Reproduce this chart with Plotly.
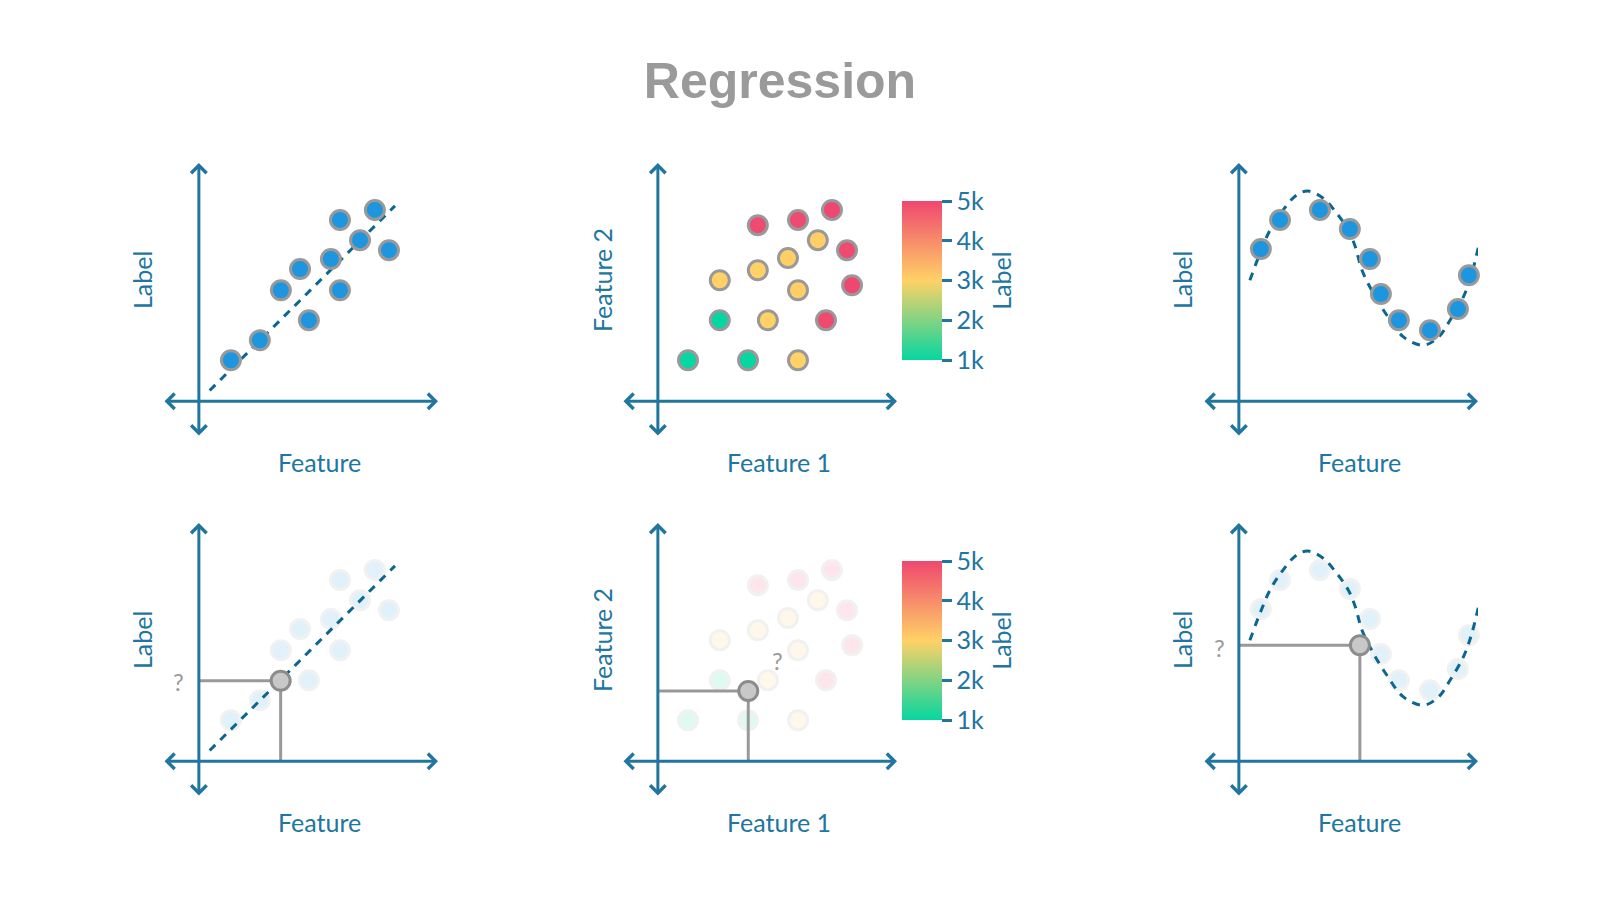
import plotly.graph_objects as go

# colours / fonts
AXIS_BLUE = '#21769f'
FIT_BLUE = '#0b6690'
DOT_BLUE = '#1e96df'
GREY = '#999999'
HAND_FONT = 'Lato'

# --- linear regression panels (1 and 4) ---
lin_feature = [1.34, 2.55, 3.43, 4.23, 4.60, 5.52, 5.90, 5.90, 6.74, 7.36, 7.95]
lin_label = [1.72, 2.56, 4.66, 5.55, 3.40, 5.97, 4.66, 7.61, 6.76, 8.03, 6.34]
lin_fit_x = [0.45, 8.2]
lin_fit_y = [0.45, 8.2]
lin_query = [3.42, 3.38]

# --- two-feature panels (2 and 5) ---
multi_f1 = [4.18, 5.86, 7.28, 6.69, 7.91, 5.44, 4.18, 2.59, 5.86, 8.12, 2.59, 4.60, 7.03, 1.26, 3.77, 5.86]
multi_f2 = [7.39, 7.61, 8.03, 6.76, 6.34, 6.01, 5.50, 5.08, 4.66, 4.87, 3.40, 3.40, 3.40, 1.72, 1.72, 1.72]
multi_label = [4950, 4950, 5000, 3050, 4950, 3050, 3000, 3000, 3050, 5000, 1000, 3000, 4950, 1000, 1000, 3000]
multi_query = [3.78, 2.95]
cbar_ticks = [1000, 2000, 3000, 4000, 5000]
cbar_text = ['1k', '2k', '3k', '4k', '5k']

# --- non-linear panels (3 and 6) ---
curve_feature = [0.92, 1.72, 3.39, 4.64, 5.48, 5.94, 6.69, 7.99, 9.16, 9.62]
curve_label = [6.39, 7.61, 8.03, 7.23, 5.97, 4.50, 3.40, 2.98, 3.87, 5.29]
curve_fit_x = [0.46, 0.88, 1.30, 1.79, 2.42, 2.90, 3.53, 4.09, 4.58, 4.87, 5.15, 5.63,
               6.19, 6.88, 7.72, 8.35, 8.83, 9.39, 9.74, 10.08]
curve_fit_y = [5.08, 6.20, 7.18, 7.95, 8.66, 8.82, 8.52, 7.89, 7.18, 6.48, 5.50, 4.52,
               3.61, 2.70, 2.35, 2.70, 3.40, 4.38, 5.36, 6.76]
curve_query = [5.06, 4.87]

xlabels = ['Feature', 'Feature 1', 'Feature']
ylabels = ['Label', 'Feature 2', 'Label']

# page pixel positions (the html body has an 8px margin, so the figure is shrunk by it)
OFF = 8
W, H = 1600 - 2 * OFF, 900 - 2 * OFF
col_px = [(163, 438), (622, 897), (1203, 1478)]
row_px = [(163, 437), (523, 797)]
origin_px = [199, 659, 1239]


def px_x(p):
    return (p - OFF) / W


def px_y(p):
    return 1 - (p - OFF) / H


fig = go.Figure()
annotations = []


def refs(i):
    return ('x' if i == 1 else 'x%d' % i), ('y' if i == 1 else 'y%d' % i)


def dots(i, x, y, color=DOT_BLUE, opacity=1.0, colorbar=None):
    xr, yr = refs(i)
    marker = dict(size=19, color=color, opacity=opacity, line=dict(color=GREY, width=3))
    if colorbar is not None:
        marker.update(colorscale=[[0, '#06d6a0'], [0.5, '#ffd166'], [1, '#ef476f']],
                      cmin=1000, cmax=5000, showscale=True, colorbar=colorbar)
    fig.add_trace(go.Scatter(x=x, y=y, mode='markers', marker=marker, xaxis=xr, yaxis=yr,
                             cliponaxis=False, hoverinfo='skip', showlegend=False))


def fit(i, x, y, shape='linear'):
    xr, yr = refs(i)
    fig.add_trace(go.Scatter(x=x, y=y, mode='lines', xaxis=xr, yaxis=yr, cliponaxis=False,
                             line=dict(color=FIT_BLUE, width=3, dash='8px,7px', shape=shape),
                             hoverinfo='skip', showlegend=False))


def query(i, q, qmark):
    xr, yr = refs(i)
    fig.add_trace(go.Scatter(x=[0, q[0], q[0]], y=[q[1], q[1], 0], mode='lines',
                             line=dict(color=GREY, width=3), xaxis=xr, yaxis=yr,
                             hoverinfo='skip', showlegend=False))
    fig.add_trace(go.Scatter(x=[q[0]], y=[q[1]], mode='markers', xaxis=xr, yaxis=yr,
                             marker=dict(size=19, color='#c8c8c8', line=dict(color='#8c8c8c', width=3)),
                             hoverinfo='skip', showlegend=False))
    annotations.append(dict(x=qmark[0], y=qmark[1], xref=xr, yref=yr, text='?', showarrow=False,
                            font=dict(family=HAND_FONT, size=24, color=GREY)))


def cbar(row):
    top, bot = row_px[row]
    top, bot = top + 38, bot - 77
    return dict(x=px_x(902), xanchor='left', xpad=0, ypad=0, thickness=40,
                y=px_y((top + bot) / 2), yanchor='middle', lenmode='pixels', len=bot - top,
                outlinewidth=0, tickvals=cbar_ticks, ticktext=cbar_text, ticks='outside',
                ticklen=10, tickwidth=3, tickcolor=AXIS_BLUE,
                tickfont=dict(family=HAND_FONT, size=25, color=AXIS_BLUE),
                title=dict(text='Label', side='right', font=dict(family=HAND_FONT, size=25, color=AXIS_BLUE)))


# top row
fit(1, lin_fit_x, lin_fit_y)
dots(1, lin_feature, lin_label)
dots(2, multi_f1, multi_f2, color=multi_label, colorbar=cbar(0))
fit(3, curve_fit_x, curve_fit_y, shape='spline')
dots(3, curve_feature, curve_label)

# bottom row
dots(4, lin_feature, lin_label, opacity=0.13)
fit(4, lin_fit_x, lin_fit_y)
query(4, lin_query, (-0.84, 3.33))
dots(5, multi_f1, multi_f2, color=multi_label, opacity=0.13, colorbar=cbar(1))
query(5, multi_query, (5.02, 4.24))
dots(6, curve_feature, curve_label, opacity=0.13)
fit(6, curve_fit_x, curve_fit_y, shape='spline')
query(6, curve_query, (-0.8, 4.79))

layout_axes = {}
for i in range(1, 7):
    row, col = (i - 1) // 3, (i - 1) % 3
    xr, yr = refs(i)
    x0, x1 = col_px[col]
    y0, y1 = row_px[row]
    layout_axes['xaxis' if i == 1 else 'xaxis%d' % i] = dict(
        domain=[px_x(x0), px_x(x1)], range=[-1.5, 10], visible=False, anchor=yr, fixedrange=True)
    layout_axes['yaxis' if i == 1 else 'yaxis%d' % i] = dict(
        domain=[px_y(y1), px_y(y0)], range=[-1.5, 10], visible=False, anchor=xr, fixedrange=True)

    # hand drawn looking axes: double headed arrows
    for head, tail in [((10, 0), (-1.5, 0)), ((0, 10), (0, -1.5))]:
        annotations.append(dict(x=head[0], y=head[1], ax=tail[0], ay=tail[1], xref=xr, yref=yr,
                                axref=xr, ayref=yr, text='', showarrow=True, arrowside='end+start',
                                arrowhead=4, startarrowhead=4, arrowsize=1, startarrowsize=1,
                                arrowwidth=3, arrowcolor=AXIS_BLUE, standoff=0, startstandoff=0))
    # axis titles sit outside the data range, so place them in paper coords
    annotations.append(dict(x=px_x(origin_px[col] + 120), y=px_y(y1 + 25), xref='paper', yref='paper',
                            xanchor='center', yanchor='middle', text=xlabels[col], showarrow=False,
                            font=dict(family=HAND_FONT, size=25, color=AXIS_BLUE)))
    annotations.append(dict(x=px_x(origin_px[col] - 57), y=px_y(y0 + 117), xref='paper', yref='paper',
                            xanchor='center', yanchor='middle', text=ylabels[col], showarrow=False,
                            textangle=-90, font=dict(family=HAND_FONT, size=25, color=AXIS_BLUE)))

fig.update_layout(
    width=W, height=H,
    margin=dict(l=0, r=0, t=0, b=0),
    paper_bgcolor='white', plot_bgcolor='white',
    title=dict(text='<b>Regression</b>', x=px_x(780), xanchor='center', y=px_y(80), yanchor='middle',
               font=dict(family='Liberation Sans, Arial', size=50, color='#9a9a9a')),
    annotations=annotations,
    **layout_axes
)

fig.write_html("out.html")
